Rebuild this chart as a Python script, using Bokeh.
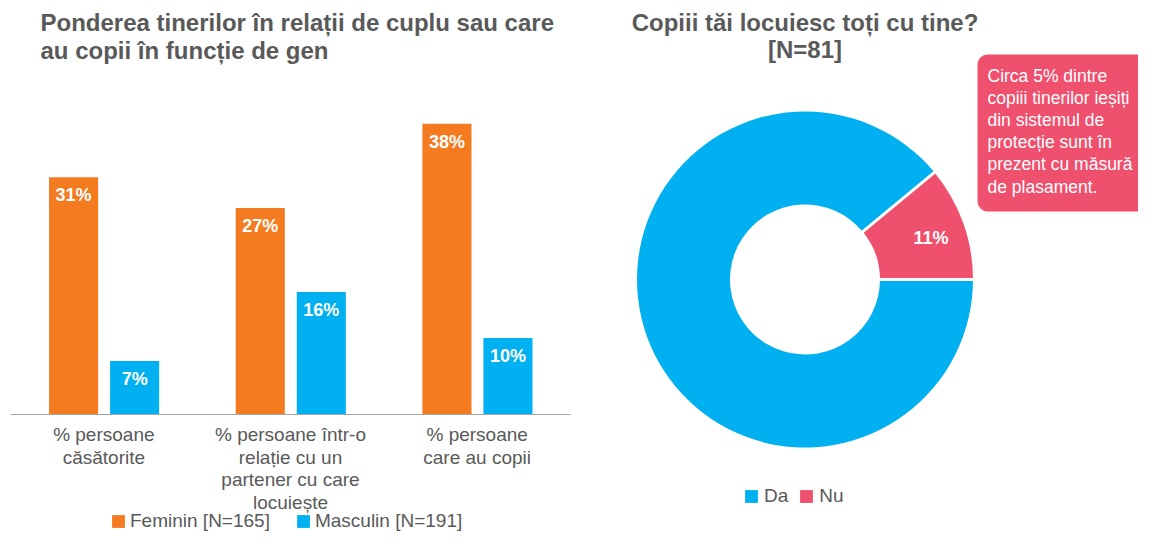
import numpy as np
from bokeh.plotting import figure
from bokeh.models import ColumnDataSource, Range1d, Legend, LegendItem
from bokeh.transform import dodge
from bokeh.core.properties import value
from bokeh.embed import file_html
from bokeh.resources import INLINE

FONT = "Liberation Sans"
GREY = "#595959"
ORANGE = "#F47B20"
BLUE = "#00B0F0"
PINK = "#EF506D"
AXIS_GREY = "#A6A6A6"

# ---------------- data ----------------
categories = ["% persoane\ncăsătorite",
              "% persoane într-o\nrelație cu un\npartener cu care\nlocuiește",
              "% persoane\ncare au copii"]
feminin = [31, 27, 38]
masculin = [7, 16, 10]
series_names = ["Feminin [N=165]", "Masculin [N=191]"]
bar_title = ["Ponderea tinerilor în relații de cuplu sau care",
             "au copii în funcție de gen"]

pie_labels = ["Da", "Nu"]
pie_values = [89, 11]
pie_title = ["Copiii tăi locuiesc toți cu tine?", "[N=81]"]
callout_lines = ["Circa 5% dintre", "copiii tinerilor ieșiți", "din sistemul de",
                 "protecție sunt în", "prezent cu măsură", "de plasament."]

# ---------------- geometry (canvas pixels -> data) ----------------
W, H = 1138, 532
CAT_PX = 560 / len(categories)   # pixels per category
PX_PER_PCT = 7.65                # pixels per percentage point
AX_LEFT, BASE_Y = 10, 414        # canvas px of category axis start / baseline

def ix(px):
    return (px - AX_LEFT) / CAT_PX - 0.5

def iy(py):
    return (BASE_Y - py) / PX_PER_PCT

p = figure(width=W, height=H, x_range=Range1d(ix(0), ix(W)),
           y_range=Range1d(iy(H), iy(0)),
           output_backend="svg", toolbar_location=None,
           x_axis_location=None, y_axis_location=None, min_border=0)
p.outline_line_color = None
p.grid.visible = False
p.background_fill_color = "white"
p.border_fill_color = "white"

# ---------------- bars ----------------
xs = list(range(len(categories)))
src = ColumnDataSource(dict(x=xs, fem=feminin, mas=masculin,
                            fem_txt=[f"{v}%" for v in feminin],
                            mas_txt=[f"{v}%" for v in masculin]))
OFF_F, OFF_M, BW = -0.162, 0.165, 0.263
rf = p.vbar(x=dodge("x", OFF_F), top="fem", width=BW, source=src,
            fill_color=ORANGE, line_color=None)
rm = p.vbar(x=dodge("x", OFF_M), top="mas", width=BW, source=src,
            fill_color=BLUE, line_color=None)
for off, ycol, tcol in [(OFF_F, "fem", "fem_txt"), (OFF_M, "mas", "mas_txt")]:
    p.text(x=dodge("x", off), y=ycol, text=tcol, source=src,
           y_offset=18, text_align="center", text_baseline="middle",
           text_color="white", text_font=value(FONT), text_font_style="bold",
           text_font_size="18px")

# category axis line
p.segment(x0=[-0.5], y0=[0], x1=[len(categories) - 0.5], y1=[0],
          line_color=AXIS_GREY, line_width=1)

# category labels (one text per line)
lx, ly, lt = [], [], []
for i, cat in enumerate(categories):
    for j, line in enumerate(cat.split("\n")):
        lx.append(i)
        ly.append(iy(BASE_Y + 20 + 22.5 * j))
        lt.append(line)
p.text(x=lx, y=ly, text=lt, text_align="center", text_baseline="middle",
       text_color=GREY, text_font=value(FONT), text_font_size="19px")

leg1 = Legend(items=[LegendItem(label=series_names[0], renderers=[rf]),
                     LegendItem(label=series_names[1], renderers=[rm])],
              orientation="horizontal", location=(110, 0),
              label_text_font=FONT, label_text_font_size="19px", label_text_color=GREY,
              glyph_width=16, glyph_height=16, label_height=18, label_standoff=4,
              spacing=25, padding=0, margin=0,
              border_line_color=None, background_fill_alpha=0)
p.add_layout(leg1)

# bar chart title
p.text(x=[ix(40)] * 2, y=[iy(22), iy(50)], text=bar_title, text_align="left",
       text_baseline="middle", text_color=GREY, text_font=value(FONT),
       text_font_style="bold", text_font_size="24px")

# ---------------- donut ----------------
CX, CY = 804.5, 279          # canvas px of donut centre
R_IN, R_OUT = 75, 168         # screen px
vals = np.array(pie_values, dtype=float)
frac = vals / vals.sum()
ends = -2 * np.pi * np.cumsum(frac)
starts = np.concatenate([[0.0], ends[:-1]])
psrc = ColumnDataSource(dict(label=pie_labels, start=starts, end=ends, color=[BLUE, PINK]))
w = p.annular_wedge(x=ix(CX), y=iy(CY), inner_radius=R_IN, outer_radius=R_OUT,
                    inner_radius_units="screen", outer_radius_units="screen",
                    start_angle="start", end_angle="end", direction="clock",
                    fill_color="color", line_color=None, source=psrc)

def polar(r, a):
    return ix(CX + r * np.cos(a)), iy(CY - r * np.sin(a))

sx0, sy0 = polar(R_IN - 2, starts)
sx1, sy1 = polar(R_OUT + 2, starts)
p.segment(x0=sx0, y0=sy0, x1=sx1, y1=sy1, line_color="white", line_width=3)

mid = (starts + ends) / 2
lab_idx = [i for i, v in enumerate(pie_values) if v < 50]
lxs, lys = polar(134, mid[lab_idx])
p.text(x=list(lxs), y=list(lys - 4 / PX_PER_PCT), text=[f"{pie_values[i]}%" for i in lab_idx],
       text_align="center", text_baseline="middle", text_color="white",
       text_font=value(FONT), text_font_style="bold", text_font_size="18px")

# donut title
p.text(x=[ix(CX)] * 2, y=[iy(22), iy(49)], text=pie_title, text_align="center",
       text_baseline="middle", text_color=GREY, text_font=value(FONT),
       text_font_style="bold", text_font_size="24px")

# callout box
p.quad(left=[ix(977)], right=[ix(1175)], top=[iy(54)], bottom=[iy(211)],
       fill_color=PINK, line_color=None, border_radius=10)
p.text(x=[ix(987)] * len(callout_lines),
       y=[iy(75 + 22.2 * k) for k in range(len(callout_lines))],
       text=callout_lines, text_align="left", text_baseline="middle",
       text_color="white", text_font=value(FONT), text_font_size="17.5px")

leg2 = Legend(items=[LegendItem(label=pie_labels[0], renderers=[w], index=0),
                     LegendItem(label=pie_labels[1], renderers=[w], index=1)],
              orientation="horizontal", location=(743, 25),
              label_text_font=FONT, label_text_font_size="19px", label_text_color=GREY,
              glyph_width=16, glyph_height=16, label_height=20, label_standoff=5,
              spacing=10, padding=0, margin=0,
              border_line_color=None, background_fill_alpha=0)
p.add_layout(leg2)

open("out.html", "w").write(file_html(p, INLINE))
